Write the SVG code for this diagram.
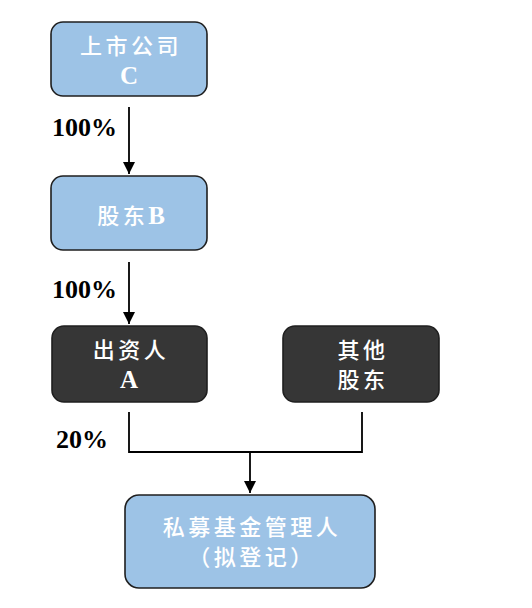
<svg xmlns="http://www.w3.org/2000/svg" width="532" height="608" viewBox="0 0 532 608">
<style>
.light{fill:#9DC3E6;stroke:#1f1f1f;stroke-width:1.6}
.dark{fill:#363636;stroke:#1f1f1f;stroke-width:1.6}
.cjk{font-family:"Liberation Serif","Noto Sans CJK SC",serif;font-size:22px;font-weight:500;fill:#ffffff;text-anchor:middle;letter-spacing:3.5px}
.lat{font-family:"Liberation Serif","Noto Sans CJK SC",serif;font-size:25px;font-weight:bold;fill:#ffffff;text-anchor:middle}
.pct{font-family:"Liberation Serif",serif;font-size:26px;font-weight:bold;fill:#000000}
.ln{stroke:#000;stroke-width:1.8;fill:none}
</style>
<defs>
<marker id="ah" markerWidth="12" markerHeight="12" refX="12" refY="6" orient="auto" markerUnits="userSpaceOnUse">
<path d="M0,0 L12,6 L0,12 Z" fill="#000"/>
</marker>
</defs>
<rect width="532" height="608" fill="#ffffff"/>
<g id="connectors">
<line class="ln" x1="129" y1="107" x2="129" y2="174" marker-end="url(#ah)"/>
<line class="ln" x1="129" y1="262" x2="129" y2="324" marker-end="url(#ah)"/>
<polyline class="ln" points="129,412 129,452 362,452 362,412"/>
<line class="ln" x1="250" y1="452" x2="250" y2="493" marker-end="url(#ah)"/>
<text class="pct" x="52" y="136">100%</text>
<text class="pct" x="52" y="298">100%</text>
<text class="pct" x="56" y="448">20%</text>
</g>
<g id="nodeC">
<rect class="light" x="51" y="22" width="156" height="74" rx="12"/>
<text class="cjk" x="131" y="54">上市公司</text>
<text class="lat" x="129" y="84">C</text>
</g>
<g id="nodeB">
<rect class="light" x="51" y="176" width="156" height="74" rx="12"/>
<text class="cjk" x="131" y="224">股东<tspan class="lat" style="letter-spacing:0">B</tspan></text>
</g>
<g id="nodeA">
<rect class="dark" x="52" y="326" width="155" height="76" rx="12"/>
<text class="cjk" x="131" y="358">出资人</text>
<text class="lat" x="129" y="388">A</text>
</g>
<g id="nodeOther">
<rect class="dark" x="283" y="326" width="156" height="76" rx="12"/>
<text class="cjk" x="363" y="358">其他</text>
<text class="cjk" x="363" y="388">股东</text>
</g>
<g id="nodeManager">
<rect class="light" x="125" y="495" width="250" height="93" rx="14"/>
<text class="cjk" x="252" y="535">私募基金管理人</text>
<text class="cjk" x="252" y="565">（拟登记）</text>
</g>
</svg>
